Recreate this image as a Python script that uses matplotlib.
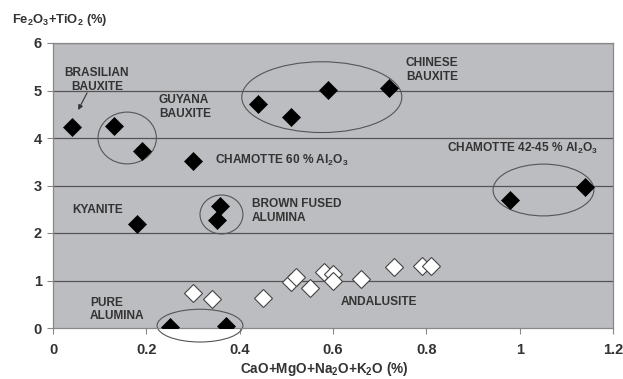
import matplotlib
matplotlib.use("Agg")
import matplotlib.pyplot as plt
from matplotlib.patches import Ellipse

plt.rcParams['font.family'] = ['Liberation Sans', 'DejaVu Sans']
plt.rcParams['mathtext.fontset'] = 'custom'
plt.rcParams['mathtext.bf'] = 'Liberation Sans:bold'
plt.rcParams['mathtext.rm'] = 'Liberation Sans:bold'
plt.rcParams['mathtext.default'] = 'bf'

# Black diamonds (bauxites, chamottes, kyanite, fused/pure alumina)
black_x = [0.04, 0.13, 0.19, 0.30, 0.18, 0.358, 0.351, 0.25, 0.37,
           0.44, 0.51, 0.59, 0.72, 0.98, 1.14]
black_y = [4.23, 4.25, 3.73, 3.52, 2.19, 2.57, 2.27, 0.02, 0.05,
           4.72, 4.44, 5.01, 5.05, 2.70, 2.97]

# White diamonds (andalusite)
white_x = [0.30, 0.34, 0.45, 0.51, 0.52, 0.55, 0.58, 0.60, 0.60, 0.66, 0.73, 0.79, 0.81]
white_y = [0.73, 0.62, 0.64, 0.97, 1.08, 0.84, 1.17, 1.13, 0.99, 1.03, 1.29, 1.30, 1.30]

x_ticks = [0, 0.2, 0.4, 0.6, 0.8, 1, 1.2]
x_tick_labels = ['0', '0.2', '0.4', '0.6', '0.8', '1', '1.2']
y_ticks = [0, 1, 2, 3, 4, 5, 6]

# group labels: (text, x, y)
labels = [
    ("BRASILIAN\nBAUXITE", 0.094, 5.22, 'center'),
    ("GUYANA\nBAUXITE", 0.227, 4.65, 'left'),
    ("CHAMOTTE 60 % Al$_2$O$_3$", 0.347, 3.52, 'left'),
    ("CHINESE\nBAUXITE", 0.756, 5.43, 'left'),
    ("CHAMOTTE 42-45 % Al$_2$O$_3$", 0.844, 3.77, 'left'),
    ("KYANITE", 0.041, 2.48, 'left'),
    ("BROWN FUSED\nALUMINA", 0.426, 2.47, 'left'),
    ("PURE\nALUMINA", 0.079, 0.39, 'left'),
    ("ANDALUSITE", 0.617, 0.55, 'left'),
]

# ellipses: (cx, cy, width, height)
ellipses = [
    (0.159, 4.00, 0.125, 1.09),
    (0.576, 4.86, 0.343, 1.49),
    (0.361, 2.39, 0.092, 0.82),
    (0.315, 0.05, 0.184, 0.69),
    (1.051, 2.905, 0.216, 1.09),
]

fig = plt.figure(figsize=(6.23, 3.79), dpi=100)
ax = fig.add_axes([53/623, 1 - 328/379, 560/623, 285/379])
ax.set_facecolor('#bcbdc1')
ax.set_xlim(0, 1.2)
ax.set_ylim(0, 6)

for y in y_ticks[1:]:
    ax.axhline(y, color='#555555', lw=0.9, zorder=1)

for (cx, cy, w, h) in ellipses:
    e = Ellipse((cx, cy), w, h, fill=False, edgecolor='#555555', lw=0.8,
                zorder=2, clip_on=False)
    ax.add_patch(e)

ax.plot(white_x, white_y, linestyle='none', marker='D', markersize=9.5,
        markerfacecolor='white', markeredgecolor='#444444', markeredgewidth=0.8, zorder=3)
ax.plot(black_x, black_y, linestyle='none', marker='D', markersize=9.5,
        markerfacecolor='black', markeredgecolor='black', markeredgewidth=0.5, zorder=4)

for text, x, y, ha in labels:
    ax.text(x, y, text, ha=ha, va='center', fontsize=8.6, fontweight='bold',
            color='#333333', linespacing=1.2, zorder=5)

ax.annotate('', xy=(0.054, 4.59), xytext=(0.073, 4.95),
            arrowprops=dict(arrowstyle='-|>', color='#333333', lw=0.8,
                            mutation_scale=7, shrinkA=0, shrinkB=0))

ax.set_xticks(x_ticks)
ax.set_xticklabels(x_tick_labels)
ax.set_yticks(y_ticks)
for lab in ax.get_xticklabels() + ax.get_yticklabels():
    lab.set_fontweight('bold')
    lab.set_fontsize(10.5)
    lab.set_color('#333333')
ax.tick_params(axis='both', direction='out', length=4, color='#888888', width=0.8, pad=7)
ax.tick_params(axis='y', pad=4)

for s in ['left', 'bottom', 'right', 'top']:
    ax.spines[s].set_color('#888888')
    ax.spines[s].set_linewidth(0.9)

fig.text(12/623, 1 - 20/379, 'Fe$_2$O$_3$+TiO$_2$ (%)', fontsize=9.3, fontweight='bold',
         color='#333333', ha='left', va='center')
fig.text(324/623, 1 - 369/379, 'CaO+MgO+Na$_2$O+K$_2$O (%)', fontsize=9.8, fontweight='bold',
         color='#333333', ha='center', va='center')

fig.savefig('out.png', dpi=100, facecolor='white')
